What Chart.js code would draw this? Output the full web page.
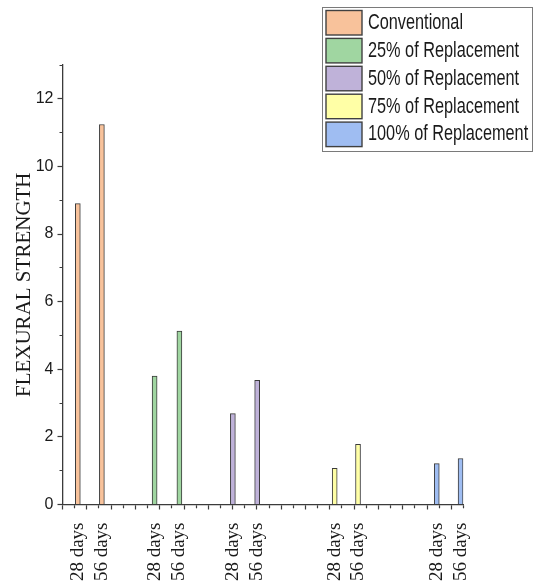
<!DOCTYPE html>
<html>
<head>
<meta charset="utf-8">
<script src="https://cdn.jsdelivr.net/npm/chart.js@4.4.1/dist/chart.umd.min.js"></script>
<style>
  html, body { margin: 0; padding: 0; background: #ffffff; }
  #wrap { width: 538px; height: 582px; }
</style>
</head>
<body>
<div id="wrap"><canvas id="chart" width="538" height="582"></canvas></div>
<script>
// Mix names and the curing ages tested for each mix
const mixNames = ['Conventional', '25% of Replacement', '50% of Replacement', '75% of Replacement', '100% of Replacement'];
const ageLabels = ['28 days', '56 days'];

// Flexural strength at 28 and 56 days for each mix
const conventional = [8.90, 11.24];
const replacement25 = [3.80, 5.13];
const replacement50 = [2.69, 3.67];
const replacement75 = [1.07, 1.78];
const replacement100 = [1.21, 1.36];

// Position of each specimen along the x axis (axis units), in mix order
const specimenX = [0.63, 1.62, 3.79, 4.81, 7.01, 8.01, 11.20, 12.16, 15.40, 16.38];

// Y axis tick values
const yTicks = [0, 2, 4, 6, 8, 10, 12];

const fills = ['#F8C29B', '#A0D6A1', '#BFB2D9', '#FFFFA6', '#9FBDF2'];
const edge = '#3b3b3b';

const seriesValues = [conventional, replacement25, replacement50, replacement75, replacement100];

const datasets = seriesValues.map((vals, i) => ({
  label: mixNames[i],
  data: vals.map((v, j) => ({ x: specimenX[i * 2 + j], y: v })),
  backgroundColor: fills[i],
  borderColor: edge,
  borderWidth: 1,
  borderSkipped: 'start',
  barThickness: 5,
  grouped: false,
  xAxisID: 'x',
  yAxisID: 'y'
}));

// Boxed legend in the upper right corner
const boxLegend = {
  id: 'boxLegend',
  afterDraw(chart) {
    const ctx = chart.ctx;
    const left = 322.5, top = 7.5, width = 210, height = 144;
    ctx.save();
    ctx.fillStyle = '#ffffff';
    ctx.fillRect(left, top, width, height);
    ctx.strokeStyle = '#7a7a7a';
    ctx.lineWidth = 1;
    ctx.strokeRect(left, top, width, height);
    const rowH = 27.9;
    chart.data.datasets.forEach((ds, i) => {
      const y = top + 3 + i * rowH;
      ctx.fillStyle = ds.backgroundColor;
      ctx.fillRect(326, y, 36, 24.5);
      ctx.strokeStyle = '#404040';
      ctx.lineWidth = 1.4;
      ctx.strokeRect(326, y, 36, 24.5);
      ctx.save();
      ctx.translate(368, y + 12.5);
      ctx.scale(1, 1.3);
      ctx.fillStyle = '#1a1a1a';
      ctx.font = '16.3px "Liberation Sans", Arial, sans-serif';
      ctx.textBaseline = 'middle';
      ctx.textAlign = 'left';
      ctx.fillText(ds.label, 0, 0);
      ctx.restore();
    });
    ctx.restore();
  }
};

const isMinor = v => Math.abs(v - Math.round(v)) > 1e-6;

new Chart(document.getElementById('chart'), {
  type: 'bar',
  data: { datasets },
  options: {
    responsive: false,
    animation: false,
    layout: { padding: { top: 65, right: 74.5, left: 0, bottom: 0.5 } },
    plugins: { legend: { display: false }, tooltip: { enabled: false } },
    scales: {
      x: {
        type: 'linear',
        position: 'bottom',
        min: 0,
        max: 16.5,
        offset: false,
        afterFit: s => { s.height = 5; },
        border: { display: true, color: edge, width: 1.3 },
        grid: {
          display: true,
          offset: false,
          drawOnChartArea: false,
          drawTicks: true,
          tickLength: 5,
          tickColor: edge,
          tickWidth: 1.2,
          tickBorderDash: c => isMinor(c.tick.value) ? [3, 10] : []
        },
        ticks: { display: false, stepSize: 0.5 }
      },
      xl: {
        type: 'linear',
        position: 'bottom',
        min: 0,
        max: 16.5,
        offset: false,
        afterFit: s => { s.height = 72; },
        border: { display: false },
        grid: { display: false, offset: false },
        afterBuildTicks: s => { s.ticks = specimenX.map(v => ({ value: v })); },
        ticks: {
          autoSkip: false,
          minRotation: 90,
          maxRotation: 90,
          padding: 5,
          color: '#1a1a1a',
          font: { family: '"Liberation Serif", "Times New Roman", serif', size: 19 },
          callback: (v, i) => ageLabels[i % 2]
        }
      },
      y: {
        type: 'linear',
        min: 0,
        max: 13,
        afterFit: s => { s.width = 62.5; },
        border: { display: true, color: edge, width: 1.3 },
        grid: {
          display: true,
          drawOnChartArea: false,
          drawTicks: true,
          tickLength: 5,
          tickColor: edge,
          tickWidth: 1.2,
          tickBorderDash: c => (c.tick.value % 2 !== 0) ? [0, 2, 3, 10] : []
        },
        ticks: {
          stepSize: 1,
          padding: 4,
          color: '#1a1a1a',
          font: { family: '"Liberation Sans", Arial, sans-serif', size: 16 },
          callback: v => yTicks.includes(v) ? String(v) : ''
        },
        title: {
          display: true,
          text: 'FLEXURAL STRENGTH',
          color: '#1a1a1a',
          padding: { top: 12, bottom: 0 },
          font: { family: '"Liberation Serif", "Times New Roman", serif', size: 21 }
        }
      }
    }
  },
  plugins: [boxLegend]
});
</script>
</body>
</html>
